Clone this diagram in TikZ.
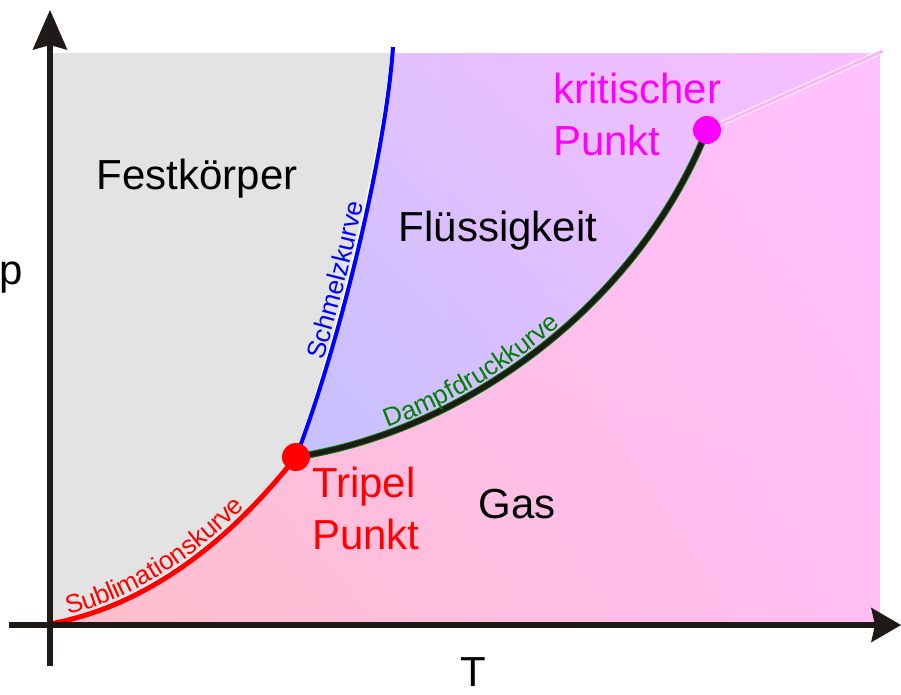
\documentclass[tikz,border=0pt]{standalone}
\usepackage{fontspec}
\setmainfont{Liberation Sans}
\usetikzlibrary{arrows.meta,decorations.text,shadings}

\definecolor{axiscol}{RGB}{31,26,23}
\definecolor{solidgray}{RGB}{227,227,227}
\definecolor{gasLL}{RGB}{255,190,200}
\definecolor{gasUL}{RGB}{255,190,230}
\definecolor{gasLR}{RGB}{255,190,242}
\definecolor{gasUR}{RGB}{255,192,255}
\definecolor{liqLL}{RGB}{196,192,255}
\definecolor{liqUL}{RGB}{222,192,255}
\definecolor{liqLR}{RGB}{236,190,255}
\definecolor{liqUR}{RGB}{250,190,255}
\definecolor{faintpink}{RGB}{255,178,250}
\definecolor{dampfgreen}{RGB}{0,128,0}
\definecolor{kritcol}{RGB}{255,0,255}
\definecolor{tripcol}{RGB}{255,0,0}

\tikzset{
  bigtext/.style={inner sep=0pt, font=\fontsize{42}{52}\selectfont},
  axisline/.style={draw=axiscol, line width=6pt},
  curvetext/.style={decorate, decoration={text along path, raise=5pt,
      text align={left, left indent=#1}}},
}

\begin{document}
\begin{tikzpicture}[x=1pt,y=-1pt]
\useasboundingbox (0,0) rectangle (901,694);

\coordinate (O) at (50,624);
\coordinate (TP) at (296,457);
\coordinate (CP) at (707,130);
\coordinate (ST) at (393,47);
\coordinate (FE) at (883,51);

% regions
\begin{scope}
  \clip (53,53) rectangle (880,621);
  \shade[lower left=gasLL, upper left=gasUL, lower right=gasLR, upper right=gasUR]
    (53,53) rectangle (880,621);
  \shade[lower left=liqLL, upper left=liqUL, lower right=liqLR, upper right=liqUR]
    (TP) .. controls (341,340) and (386,150) .. (ST) -- (890,40) -- (FE) -- (CP)
    .. controls (640,300) and (470,430) .. (TP) -- cycle;
  \fill[solidgray] (40,40) -- (ST) .. controls (386,150) and (341,340) .. (TP)
    .. controls (230,540) and (150,605) .. (O) -- (40,640) -- cycle;
\end{scope}

% faint continuation beyond the critical point
\draw[white, line width=5pt] (CP) -- (FE);
\draw[faintpink, line width=3pt] (CP) -- (FE);

% sublimation curve
\draw[white, line width=4pt, yshift=2.5pt] (O) .. controls (150,605) and (230,540) .. (TP);
\draw[red, line width=5pt] (O) .. controls (150,605) and (230,540) .. (TP);

% melting curve
\draw[white, line width=4pt, xshift=-2.5pt] (TP) .. controls (341,340) and (386,150) .. (ST);
\draw[blue, line width=4pt] (TP) .. controls (341,340) and (386,150) .. (ST);

% vapour pressure curve
\draw[dampfgreen, line width=7pt] (TP) .. controls (470,430) and (640,300) .. (CP);
\draw[axiscol, line width=5pt] (TP) .. controls (470,430) and (640,300) .. (CP);

% curve labels
\path[curvetext=20pt, decoration={text color=red,
      text={|\fontsize{26}{26}\selectfont|Sublimationskurve}}]
  (O) .. controls (150,605) and (230,540) .. (TP);
\path[curvetext=100pt, decoration={text color=blue,
      text={|\fontsize{26}{26}\selectfont|Schmelzkurve}}]
  (TP) .. controls (341,340) and (386,150) .. (ST);
\path[curvetext=97pt, decoration={text color=dampfgreen,
      text={|\fontsize{26}{26}\selectfont|Dampfdruckkurve}}]
  (TP) .. controls (470,430) and (640,300) .. (CP);

% axes
\coordinate (yb) at (50,666);
\coordinate (yt) at (50,10);
\coordinate (xl) at (9,625);
\coordinate (xr) at (901,625);
\draw[axisline, -{Stealth[length=40pt, width=35pt, inset=5pt, line width=0pt]}] (yb) -- (yt);
\draw[axisline, -{Stealth[length=30pt, width=35pt, inset=4pt, line width=0pt]}] (xl) -- (xr);

% points
\fill[tripcol] (TP) circle[radius=14pt];
\fill[kritcol] (CP) circle[radius=14pt];

% labels
\node[bigtext, anchor=base] (fest) at (197,189) {Festkörper};
\node[bigtext, anchor=base] (fluess) at (498,241) {Flüssigkeit};
\node[bigtext, anchor=base] (gas) at (517,518) {Gas};
\node[bigtext, anchor=base west, text=tripcol, align=left]
  (tripel) at (312,549) {Tripel\\Punkt};
\node[bigtext, anchor=base west, text=kritcol, align=left]
  (krit) at (553,155) {kritischer\\Punkt};
\node[bigtext, anchor=base west] (plabel) at (-1,284) {p};
\node[bigtext, anchor=base] (tlabel) at (473,686) {T};
\end{tikzpicture}
\end{document}
